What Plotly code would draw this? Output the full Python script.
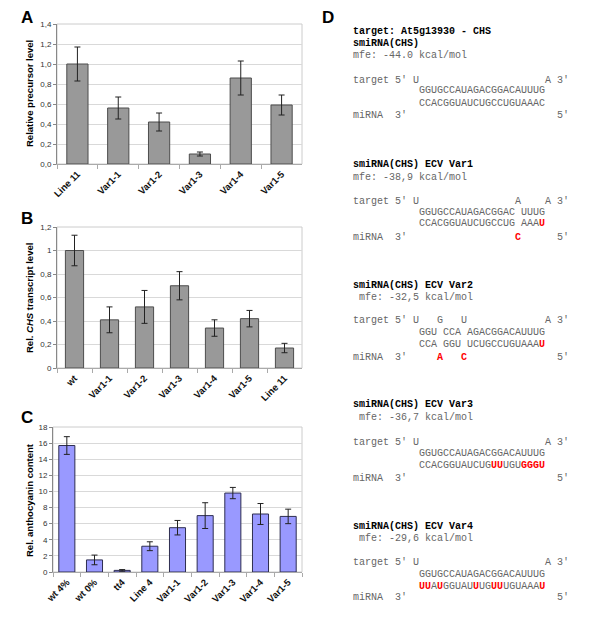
import plotly.graph_objects as go

# ---------------- data ----------------
A_cats = ["Line 11", "Var1-1", "Var1-2", "Var1-3", "Var1-4", "Var1-5"]
A_vals = [1.00, 0.56, 0.42, 0.10, 0.86, 0.59]
A_err = [0.17, 0.11, 0.09, 0.02, 0.17, 0.10]
A_ticks = [0, 0.2, 0.4, 0.6, 0.8, 1.0, 1.2, 1.4]
A_ticktext = ["0,0", "0,2", "0,4", "0,6", "0,8", "1,0", "1,2", "1,4"]

B_cats = ["wt", "Var1-1", "Var1-2", "Var1-3", "Var1-4", "Var1-5", "Line 11"]
B_vals = [1.00, 0.41, 0.52, 0.70, 0.34, 0.42, 0.17]
B_err = [0.13, 0.11, 0.14, 0.12, 0.07, 0.07, 0.04]
B_ticks = [0, 0.2, 0.4, 0.6, 0.8, 1.0, 1.2]
B_ticktext = ["0", "0,2", "0,4", "0,6", "0,8", "1", "1,2"]

C_cats = ["wt 4%", "wt 0%", "tt4", "Line 4", "Var1-1", "Var1-2", "Var1-3", "Var1-4", "Var1-5"]
C_vals = [15.7, 1.5, 0.2, 3.2, 5.5, 7.0, 9.8, 7.2, 6.9]
C_err = [1.1, 0.6, 0.1, 0.55, 0.9, 1.6, 0.7, 1.3, 0.9]
C_ticks = [0, 2, 4, 6, 8, 10, 12, 14, 16, 18]

titles = ["Relative precursor level", "Rel. <i>CHS</i> transcript level", "Rel. anthocyanin content"]
panel_letters = ["A", "B", "C", "D"]

# Panel D text: (kind, text); [..] marks red bold letters
D_lines = [
    ("head", "target: At5g13930 - CHS"),
    ("head", "smiRNA(CHS)"),
    ("norm", "mfe: -44.0 kcal/mol"),
    ("norm", "target 5' U                     A 3'"),
    ("norm", "           GGUGCCAUAGACGGACAUUUG"),
    ("norm", "           CCACGGUAUCUGCCUGUAAAC"),
    ("norm", "miRNA  3'                         5'"),
    ("head", "smiRNA(CHS) ECV Var1"),
    ("norm", "mfe: -38,9 kcal/mol"),
    ("norm", "target 5' U                A    A 3'"),
    ("norm", "           GGUGCCAUAGACGGAC UUUG"),
    ("norm", "           CCACGGUAUCUGCCUG AAA[U]"),
    ("norm", "miRNA  3'                  [C]      5'"),
    ("head", "smiRNA(CHS) ECV Var2"),
    ("norm", " mfe: -32,5 kcal/mol"),
    ("norm", "target 5' U   G   U             A 3'"),
    ("norm", "           GGU CCA AGACGGACAUUUG"),
    ("norm", "           CCA GGU UCUGCCUGUAAA[U]"),
    ("norm", "miRNA  3'     [A]   [C]               5'"),
    ("head", "smiRNA(CHS) ECV Var3"),
    ("norm", " mfe: -36,7 kcal/mol"),
    ("norm", "target 5' U                     A 3'"),
    ("norm", "           GGUGCCAUAGACGGACAUUUG"),
    ("norm", "           CCACGGUAUCUG[UU]UGU[GGGU]"),
    ("norm", "miRNA  3'                         5'"),
    ("head", "smiRNA(CHS) ECV Var4"),
    ("norm", " mfe: -29,6 kcal/mol"),
    ("norm", "target 5' U                     A 3'"),
    ("norm", "           GGUGCCAUAGACGGACAUUUG"),
    ("norm", "           [UU]A[U]GGUAU[U]UG[UU]UGUAAA[U]"),
    ("norm", "miRNA  3'                         5'"),
]
# layout: pixel rows of panel D lines (window pixels)
D_rows = [32, 44, 56, 80, 91, 104, 116,
          164, 177, 201, 213, 224, 237,
          285, 297, 321, 332, 344, 357,
          405, 417, 442, 453, 465, 478,
          526, 538, 562, 574, 586, 597]

# The page body has an 8px default margin: size the figure to fill the rest of the window
OFF = 8
W, H = 600 - OFF, 621 - OFF
def px(x): return (x - OFF) / W
def py(y): return 1 - (y - OFF) / H

fig = go.Figure()

panels = [
    (A_cats, A_vals, A_err, "#999999", "#4d4d4d", 0.52),
    (B_cats, B_vals, B_err, "#999999", "#4d4d4d", 0.52),
    (C_cats, C_vals, C_err, "#9999ff", "#2e2e50", 0.58),
]
for i, (cats, vals, err, fc, lc, bw) in enumerate(panels):
    s = "" if i == 0 else str(i + 1)
    fig.add_trace(go.Bar(
        x=cats, y=vals, xaxis="x" + s, yaxis="y" + s, width=bw,
        marker=dict(color=fc, line=dict(color=lc, width=1)),
        error_y=dict(type="data", array=err, color="#222222", thickness=1, width=3),
        showlegend=False, hoverinfo="skip",
    ))

# axis geometry (window pixels)
geo = [
    (57, 302, 24, 164, [0, 1.4], A_ticks, A_ticktext),
    (57, 302, 227, 368, [0, 1.2], B_ticks, B_ticktext),
    (53, 302, 427, 572, [0, 18], C_ticks, [str(t) for t in C_ticks]),
]
lay = {}
shapes = []
for i, (x0, x1, y0, y1, rng, tv, tt) in enumerate(geo):
    s = "" if i == 0 else str(i + 1)
    lay["xaxis" + s] = dict(
        domain=[px(x0), px(x1)], anchor="y" + s, type="category", automargin=False,
        tickangle=-45, tickfont=dict(family="Liberation Sans, Arial", size=9.5, color="#111", weight="bold"),
        showline=True, linecolor="#aaaaaa", linewidth=1, ticks="outside", tickson="boundaries",
        ticklen=4, tickcolor="#aaaaaa", showgrid=False, zeroline=False, fixedrange=True,
    )
    lay["yaxis" + s] = dict(
        domain=[py(y1), py(y0)], anchor="x" + s, range=rng, automargin=False,
        tickvals=tv, ticktext=tt, tickfont=dict(family="Liberation Sans, Arial", size=8, color="#333"),
        showline=True, linecolor="#888888", linewidth=1, ticks="outside", ticklen=3, tickcolor="#888888",
        showgrid=True, gridcolor="#d9d9d9", gridwidth=1, zeroline=False, fixedrange=True,
    )
    shapes.append(dict(type="rect", xref="x" + s + " domain", yref="y" + s + " domain",
                       x0=0, x1=1, y0=0, y1=1, line=dict(color="#cccccc", width=1), layer="below"))

annotations = []
# y-axis titles
title_pos = [(29, 94), (29, 298), (29, 500)]
for t, (x, y) in zip(titles, title_pos):
    annotations.append(dict(text="<b>" + t + "</b>", x=px(x), y=py(y), xref="paper", yref="paper",
                            textangle=-90, showarrow=False, xanchor="center", yanchor="middle",
                            font=dict(family="Liberation Sans, Arial", size=9.5, color="#000")))
# panel letters
letter_pos = [(27, 17), (27, 218), (27, 418), (328, 17)]
for t, (x, y) in zip(panel_letters, letter_pos):
    annotations.append(dict(text="<b>" + t + "</b>", x=px(x), y=py(y), xref="paper", yref="paper",
                            showarrow=False, xanchor="center", yanchor="middle",
                            font=dict(family="Liberation Sans, Arial", size=17, color="#000")))

def markup(txt):
    out = ""
    for ch in txt:
        if ch == "[":
            out += "<span style='color:#ff0000'><b>"
        elif ch == "]":
            out += "</b></span>"
        elif ch == " ":
            out += "\u00a0"
        else:
            out += ch
    return out

for (kind, txt), y in zip(D_lines, D_rows):
    if kind == "head":
        text = "<b>" + markup(txt) + "</b>"
        col = "#000000"
    else:
        text = markup(txt)
        col = "#666666"
    annotations.append(dict(text=text, x=px(352), y=py(y), xref="paper", yref="paper",
                            showarrow=False, xanchor="left", yanchor="middle", borderpad=0,
                            font=dict(family="Liberation Mono, Courier New, monospace", size=10, color=col)))

fig.update_layout(
    template="none",
    width=W, height=H, margin=dict(l=0, r=0, t=0, b=0, pad=0, autoexpand=False),
    paper_bgcolor="white", plot_bgcolor="white",
    annotations=annotations, shapes=shapes, **lay,
)

fig.write_html("out.html")
